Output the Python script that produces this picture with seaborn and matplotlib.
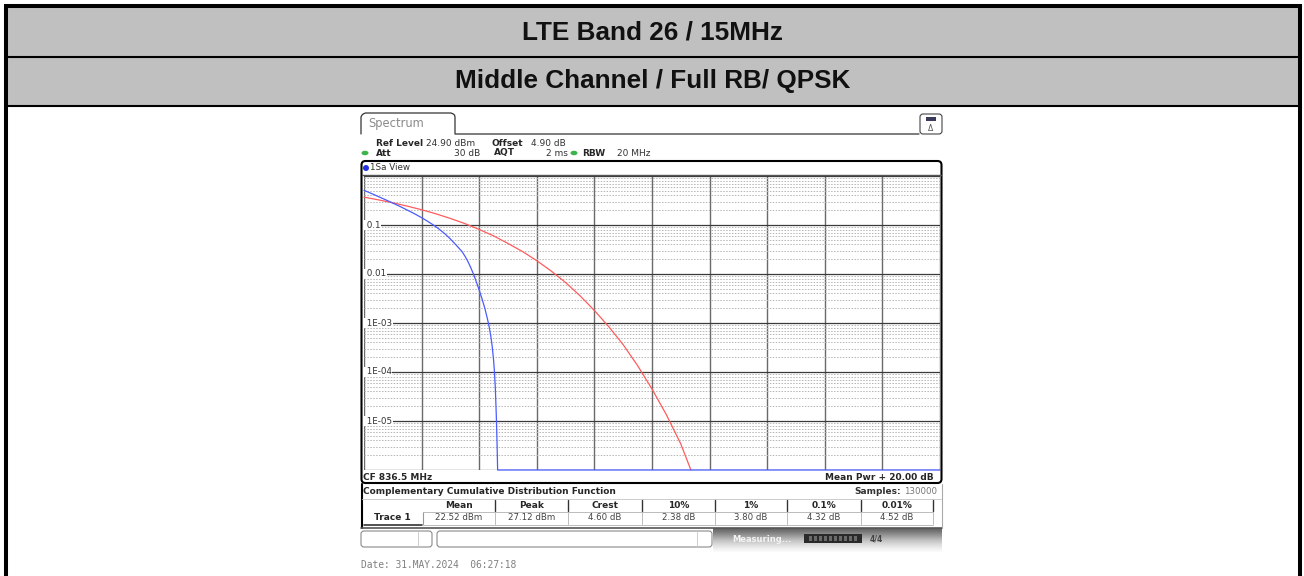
import numpy as np
import matplotlib
matplotlib.use("Agg")
import matplotlib.pyplot as plt
from matplotlib.patches import Rectangle, FancyBboxPatch, Ellipse, Circle
from matplotlib.ticker import LogLocator, FixedLocator
import seaborn as sns

# ---- data ----
title_1 = "LTE Band 26 / 15MHz"
title_2 = "Middle Channel / Full RB/ QPSK"

# reference (gaussian) trace, red
red_db = [0, 0.5, 1, 1.5, 2, 2.5, 3, 3.5, 4, 4.5, 5, 5.5, 6, 6.5, 7, 7.5,
          8, 8.5, 9, 9.5, 10, 10.5, 11, 11.35]
red_ccdf = [0.37, 0.326, 0.284, 0.243, 0.205, 0.169, 0.136, 0.107, 0.081,
            0.060, 0.042, 0.0288, 0.0187, 0.0115, 0.0067, 0.0036, 0.0018,
            8.4e-4, 3.6e-4, 1.35e-4, 4.5e-5, 1.34e-5, 3.4e-6, 1e-6]

# measured trace 1, blue
blue_db = [0, 0.25, 0.5, 0.75, 1.0, 1.25, 1.5, 1.75, 2.0, 2.2, 2.41, 2.6,
           2.8, 3.0, 3.2, 3.4, 3.5, 3.6, 3.7, 3.8, 3.9, 4.0, 4.1, 4.2, 4.3,
           4.35, 4.4, 4.45, 4.5, 4.53, 4.56, 4.58, 4.6, 4.62, 4.64, 20]
blue_ccdf = [0.510, 0.442, 0.380, 0.327, 0.280, 0.239, 0.202, 0.170, 0.141,
             0.120, 0.100, 0.083, 0.0668, 0.0519, 0.0389, 0.0288, 0.0234,
             0.0184, 0.0138, 0.0100, 0.00692, 0.00468, 0.00309, 0.00195,
             0.00112, 8.1e-4, 5.5e-4, 3.4e-4, 1.74e-4, 1.0e-4, 4.7e-5,
             2.2e-5, 1.0e-5, 3.5e-6, 1.0e-6, 1.0e-6]

y_ticks = [0.1, 0.01, 1e-3, 1e-4, 1e-5]
y_tick_labels = ["0.1", "0.01", "1E-03", "1E-04", "1E-05"]

table_cols = ["Mean", "Peak", "Crest", "10%", "1%", "0.1%", "0.01%"]
table_vals = ["22.52 dBm", "27.12 dBm", "4.60 dB", "2.38 dB", "3.80 dB",
              "4.32 dB", "4.52 dB"]

W, H = 1304, 576
sns.set_style("white")
plt.rcParams["font.family"] = ["DejaVu Sans"]

fig = plt.figure(figsize=(W / 100, H / 100), dpi=100)


def px_box(x0, y0, x1, y1):
    return [x0 / W, 1 - y1 / H, (x1 - x0) / W, (y1 - y0) / H]


# ---- the CCDF plot ----
ax = fig.add_axes(px_box(364, 176, 940, 470), zorder=1)
ax.set_yscale("log")
sns.lineplot(x=red_db, y=red_ccdf, ax=ax, color="#ff5c5c", lw=0.9)
sns.lineplot(x=blue_db, y=blue_ccdf, ax=ax, color="#4a5cff", lw=0.9)
for ln in ax.lines:
    ln.set_clip_on(False)
ax.set_xlim(0, 20)
ax.set_ylim(1e-6, 1)
ax.xaxis.set_major_locator(FixedLocator(np.arange(0, 21, 2)))
ax.yaxis.set_major_locator(LogLocator(base=10, numticks=10))
ax.yaxis.set_minor_locator(LogLocator(base=10, subs=np.arange(2, 10), numticks=10))
ax.set_axisbelow(True)
ax.grid(which="major", axis="x", color="#6a6a6a", lw=1.0)
ax.grid(which="major", axis="y", color="#3a3a3a", lw=0.9)
ax.grid(which="minor", axis="y", color="#b5b5b5", lw=0.7, ls=(0, (1.5, 1.5)))
ax.tick_params(which="both", length=0, labelleft=False, labelbottom=False)
for s in ax.spines.values():
    s.set_visible(False)
ax.set_xlabel("")
ax.set_ylabel("")
for v, lab in zip(y_ticks, y_tick_labels):
    ax.text(0, v, " " + lab, ha="left", va="center", fontsize=6.3,
            color="#333333",
            bbox=dict(fc="white", ec="none", pad=0.3))

# ---- everything else, drawn in pixel coordinates ----
ov = fig.add_axes([0, 0, 1, 1], zorder=2)
ov.set_xlim(0, W)
ov.set_ylim(H, 0)
ov.axis("off")
ov.patch.set_alpha(0)

# header table
ov.add_patch(Rectangle((6, 6), 1294, 50, fc="#c0c0c0", ec="none"))
ov.add_patch(Rectangle((6, 57), 1294, 48, fc="#c0c0c0", ec="none"))
ov.plot([4, 1302], [6, 6], color="black", lw=2.9, solid_capstyle="butt")
ov.plot([6, 6], [4, 576], color="black", lw=2.9, solid_capstyle="butt")
ov.plot([1300, 1300], [4, 576], color="black", lw=2.9, solid_capstyle="butt")
ov.plot([6, 1300], [57, 57], color="black", lw=1.5)
ov.plot([6, 1300], [105.5, 105.5], color="black", lw=1.5)
ov.text(653, 32, title_1, ha="center", va="center", fontsize=18.8,
        fontweight="bold", family=["Liberation Sans"], color="#111111")
ov.text(653, 81, title_2, ha="center", va="center", fontsize=18.8,
        fontweight="bold", family=["Liberation Sans"], color="#111111")

# tab and top line
tab_x = [361, 361, 362, 363.5, 365.5, 451, 453, 454.5, 455, 455, 919]
tab_y = [134, 117, 115, 113.8, 113, 113, 113.8, 115, 117, 134, 134]
ov.plot(tab_x, tab_y, color="#333333", lw=0.9)
ov.text(368, 124, "Spectrum", fontsize=8.3, color="#8a8a8a", va="center")

# icon top right
ov.add_patch(FancyBboxPatch((920, 114), 22, 20,
                            boxstyle="round,pad=0,rounding_size=3",
                            fc="white", ec="#444444", lw=0.8))
ov.add_patch(Rectangle((926, 117), 10, 4, fc="#3a3a5a", ec="none"))
ov.text(931, 128.5, "\u0394", fontsize=5.5, ha="center", va="center",
        color="#555555")

small = 6.5
ov.text(376, 143, "Ref Level", fontsize=small, fontweight="bold", va="center")
ov.text(426, 143, "24.90 dBm", fontsize=small, va="center", color="#333333")
ov.text(492, 143, "Offset", fontsize=small, fontweight="bold", va="center")
ov.text(531, 143, "4.90 dB", fontsize=small, va="center", color="#333333")
ov.text(376, 153, "Att", fontsize=small, fontweight="bold", va="center")
ov.text(480, 153, "30 dB", fontsize=small, va="center", ha="right", color="#333333")
ov.text(494, 153, "AQT", fontsize=small, fontweight="bold", va="center")
ov.text(568, 153, "2 ms", fontsize=small, va="center", ha="right", color="#333333")
ov.text(582, 153, "RBW", fontsize=small, fontweight="bold", va="center")
ov.text(617, 153, "20 MHz", fontsize=small, va="center", color="#333333")
for gx in [365, 574]:
    ov.add_patch(Ellipse((gx, 153), 7, 4.5, fc="#3cb44a", ec="none"))

# diagram frame
ov.add_patch(FancyBboxPatch((361.5, 161), 580, 322,
                            boxstyle="round,pad=0,rounding_size=4",
                            fc="none", ec="black", lw=1.5))
ov.plot([362, 941], [175, 175], color="#555555", lw=1)
ov.add_patch(Circle((366, 168), 3, fc="#2233dd", ec="none"))
ov.text(370, 168, "1Sa View", fontsize=6.3, va="center", color="#333333")
ov.text(363, 477, "CF 836.5 MHz", fontsize=small, fontweight="bold", va="center")
ov.text(934, 477, "Mean Pwr + 20.00 dB", fontsize=small, fontweight="bold",
        va="center", ha="right")

# result table
ov.plot([361.5, 361.5], [484, 528], color="black", lw=1.5)
ov.plot([361, 942], [528, 528], color="#555555", lw=1.2)
ov.plot([941.5, 941.5], [484, 528], color="#aaaaaa", lw=0.8)
ov.text(363, 492, "Complementary Cumulative Distribution Function",
        fontsize=small, fontweight="bold", va="center")
ov.text(904, 492, "130000", fontsize=6.2, va="center", ha="left",
        color="#777777")
ov.text(901, 492, "Samples:", fontsize=small, fontweight="bold", va="center",
        ha="right", color="#333333")
ov.plot([362, 941], [498.5, 498.5], color="#cccccc", lw=0.7)
edges = [423, 495, 568, 642, 715, 787, 861, 933]
for i, (c, v) in enumerate(zip(table_cols, table_vals)):
    cx = (edges[i] + edges[i + 1]) / 2
    ov.text(cx, 505, c, fontsize=small, fontweight="bold", va="center",
            ha="center")
    ov.text(cx, 518, v, fontsize=6.2, va="center", ha="center",
            color="#444444")
    ov.plot([edges[i + 1], edges[i + 1]], [500, 511], color="#333333", lw=1)
    ov.plot([edges[i + 1], edges[i + 1]], [512, 524], color="#bbbbbb", lw=0.7)
ov.plot([423, 423], [512, 524], color="#999999", lw=0.8)
ov.plot([423, 933], [511.5, 511.5], color="#bbbbbb", lw=0.7)
ov.plot([423, 933], [524.5, 524.5], color="#bbbbbb", lw=0.7)
ov.plot([364, 422], [524.5, 524.5], color="#333333", lw=1.2)
ov.text(392, 518, "Trace 1", fontsize=small, fontweight="bold", va="center",
        ha="center")

# status bar
ov.add_patch(FancyBboxPatch((361, 531), 71, 16,
                            boxstyle="round,pad=0,rounding_size=3",
                            fc="white", ec="#8a8a8a", lw=0.8))
ov.plot([418, 418], [532, 546], color="#cccccc", lw=0.7)
ov.add_patch(FancyBboxPatch((437, 531), 275, 16,
                            boxstyle="round,pad=0,rounding_size=3",
                            fc="white", ec="#8a8a8a", lw=0.8))
ov.plot([697, 697], [532, 546], color="#cccccc", lw=0.7)
grad = np.linspace(0, 1, 50).reshape(-1, 1)
ov.imshow(grad, cmap="Greys_r", vmin=-0.45, vmax=1.05, aspect="auto",
          extent=(713, 942, 552, 528), zorder=0.5)
ov.text(732, 539, "Measuring...", fontsize=6, va="center", color="#f4f4f4",
        fontweight="bold")
ov.add_patch(Rectangle((804, 534), 58, 9, fc="#2a2a2a", ec="none"))
for sx in np.arange(809, 858, 5):
    ov.add_patch(Rectangle((sx, 536), 3, 5, fc="#6a6a6a", ec="none"))
ov.text(870, 538.5, "4/4", fontsize=5.5, va="center", color="#444444",
        fontweight="bold")

ov.text(361, 565, "Date: 31.MAY.2024  06:27:18", fontsize=6.9,
        family=["DejaVu Sans Mono"], va="center", color="#808080")

fig.savefig("out.png", dpi=100)
